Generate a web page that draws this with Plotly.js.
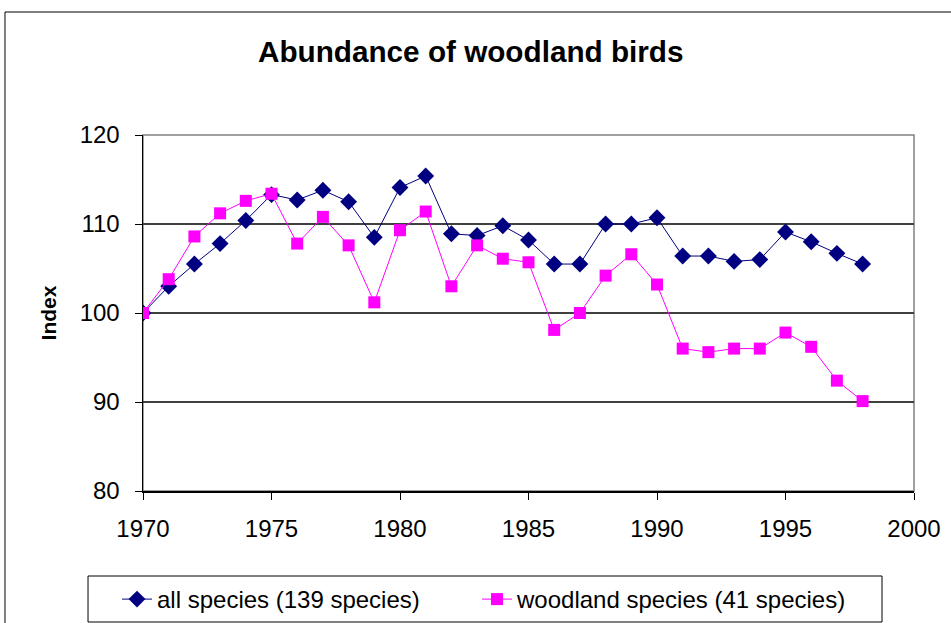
<!DOCTYPE html>
<html>
<head>
<meta charset="utf-8">
<script src="https://cdn.plot.ly/plotly-3.0.1.min.js"></script>
<style>html,body{margin:0;padding:0;background:#fff;}#chart{width:951px;height:623px;}</style>
</head>
<body>
<div id="chart"></div>
<script>
const years = [1970,1971,1972,1973,1974,1975,1976,1977,1978,1979,1980,1981,1982,1983,1984,1985,1986,1987,1988,1989,1990,1991,1992,1993,1994,1995,1996,1997,1998];
const allSpecies = [100,103.0,105.5,107.8,110.4,113.3,112.7,113.8,112.5,108.5,114.1,115.4,108.9,108.7,109.8,108.2,105.5,105.5,110.0,110.0,110.7,106.4,106.4,105.8,106.0,109.1,108.0,106.7,105.5];
const woodland = [100,103.8,108.6,111.2,112.6,113.4,107.8,110.8,107.6,101.2,109.3,111.4,103.0,107.6,106.1,105.7,98.1,100.0,104.2,106.6,103.2,96.0,95.6,96.0,96.0,97.8,96.2,92.4,90.1];
const seriesNames = ["all species (139 species)", "woodland species (41 species)"];
const titleText = "Abundance of woodland birds";
const yTitle = "Index";

const FONT = "Liberation Sans, Arial, sans-serif";

const traces = [
  {x: years, y: allSpecies, name: seriesNames[0], type: "scatter", mode: "lines+markers", legend: "legend",
   line: {color: "#000080", width: 1}, marker: {symbol: "diamond", size: 13, color: "#000080"}},
  {x: years, y: woodland, name: seriesNames[1], type: "scatter", mode: "lines+markers", legend: "legend2",
   line: {color: "#FF00FF", width: 1}, marker: {symbol: "square", size: 12, color: "#FF00FF"}}
];

const legendBase = {orientation: "h", xref: "container", yref: "container",
  y: 1 - 577 / 623, xanchor: "left", yanchor: "top",
  borderwidth: 0, bgcolor: "rgba(0,0,0,0)", font: {size: 24, family: FONT}};

const layout = {
  width: 951, height: 623,
  margin: {l: 143, r: 37, t: 135, b: 132},
  paper_bgcolor: "#fff", plot_bgcolor: "#fff",
  font: {family: FONT, color: "#000"},
  showlegend: true,
  title: {text: "<b>" + titleText + "</b>", font: {family: FONT, size: 29.7, color: "#000"},
          x: 0.495, xref: "container", xanchor: "center", y: 0.917, yref: "container", yanchor: "middle"},
  xaxis: {range: [1970, 2000], tickvals: [1970,1975,1980,1985,1990,1995,2000], ticks: "outside", ticklen: 7,
          tickcolor: "#000", showgrid: false, zeroline: false, showline: true, linecolor: "#000", linewidth: 1.5,
          tickfont: {size: 24, family: FONT}, ticklabelstandoff: 9, fixedrange: true},
  yaxis: {range: [80, 120], tickvals: [80,90,100,110,120], ticks: "outside", ticklen: 7, tickcolor: "#000",
          showgrid: true, gridcolor: "#404040", gridwidth: 1.5, zeroline: false, showline: true, linecolor: "#000", linewidth: 1.5,
          tickfont: {size: 24, family: FONT}, ticklabelstandoff: 10,
          title: {text: "<b>" + yTitle + "</b>", font: {size: 21, family: FONT}, standoff: 17}, fixedrange: true},
  legend: Object.assign({}, legendBase, {x: 117 / 951}),
  legend2: Object.assign({}, legendBase, {x: 477 / 951}),
  shapes: [
    {type: "rect", xref: "paper", yref: "paper", x0: 0, x1: 1, y0: 0, y1: 1, line: {color: "#808080", width: 1.5}, layer: "below"},
    {type: "rect", xref: "paper", yref: "paper", x0: -0.179, x1: 1.2, y0: -0.6, y1: 1.3455, line: {color: "#000", width: 1}, layer: "below"},
    {type: "rect", xref: "paper", yref: "paper", x0: -0.0713, x1: 0.9585, y0: -0.368, y1: -0.2388, line: {color: "#000", width: 1}, fillcolor: "#fff", layer: "below"}
  ]
};

Plotly.newPlot("chart", traces, layout, {displayModeBar: false, staticPlot: true});
</script>
</body>
</html>
